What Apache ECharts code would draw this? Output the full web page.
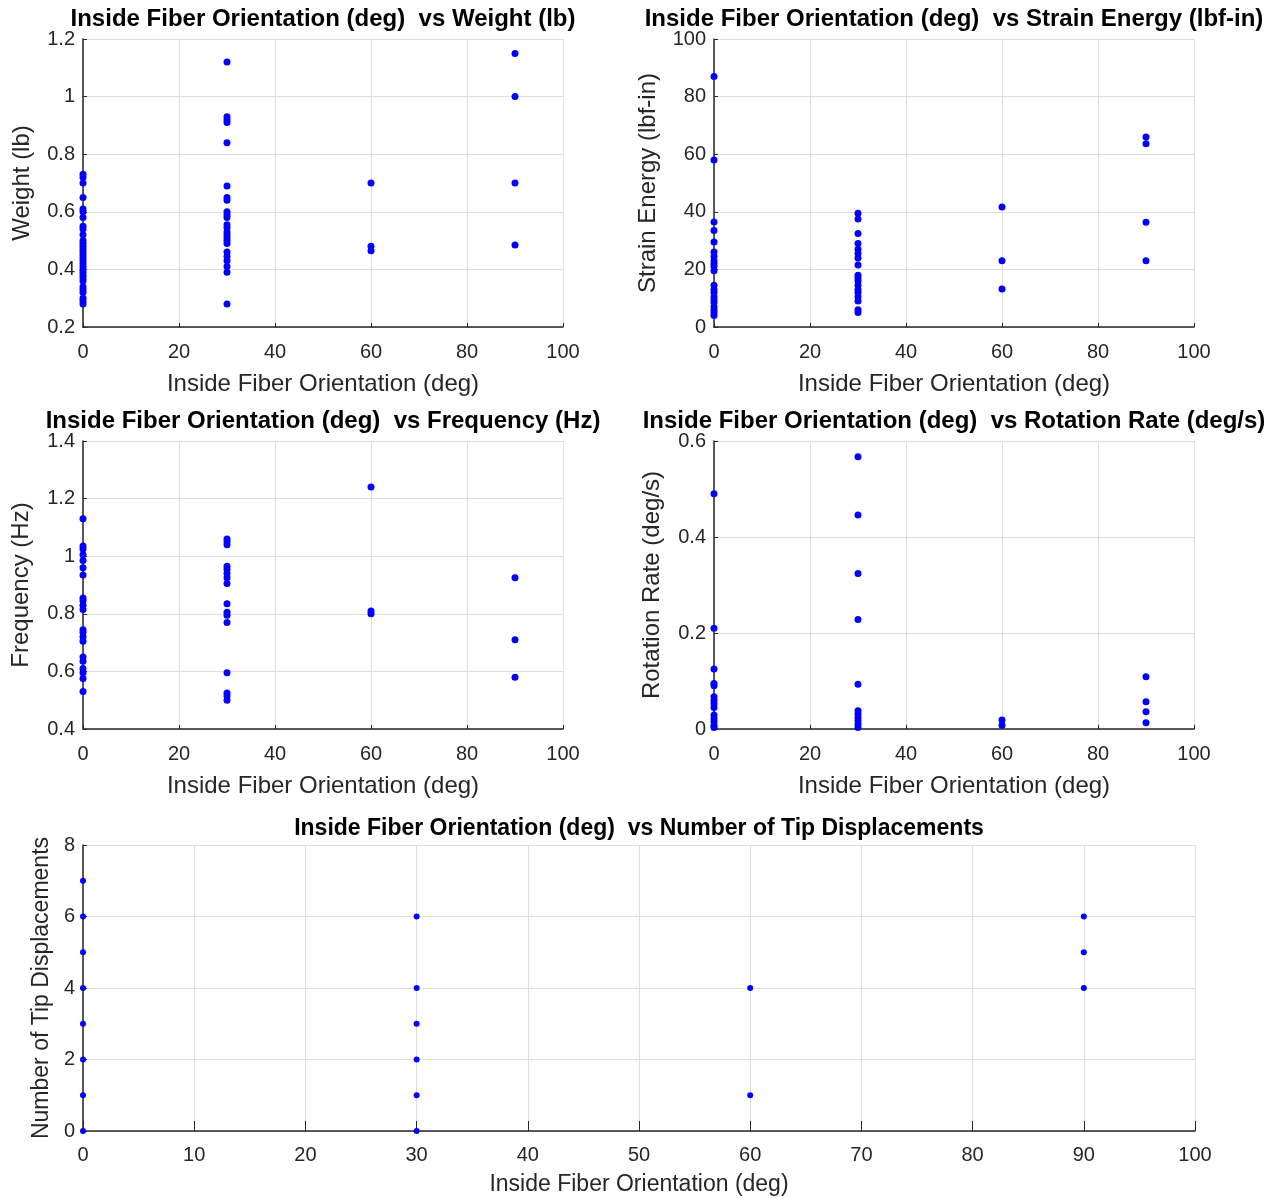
<!DOCTYPE html>
<html>
<head>
<meta charset="utf-8">
<script src="https://cdn.jsdelivr.net/npm/echarts@6/dist/echarts.min.js"></script>
<style>
  html, body { margin: 0; padding: 0; background: #fff; }
  #chart { width: 1286px; height: 1198px; }
</style>
</head>
<body>
<div id="chart"></div>
<script>
// ---- data ----
var orientations = [0, 30, 60, 90];

var weight0  = [0.73, 0.72, 0.70, 0.65, 0.61, 0.60, 0.58, 0.55, 0.54, 0.52, 0.50, 0.49, 0.48, 0.47, 0.46, 0.45,
                0.44, 0.43, 0.42, 0.41, 0.40, 0.39, 0.38, 0.37, 0.36, 0.34, 0.33, 0.32, 0.30, 0.29, 0.28];
var weight30 = [1.12, 0.93, 0.92, 0.91, 0.84, 0.69, 0.65, 0.64, 0.60, 0.59, 0.58, 0.555, 0.545, 0.53, 0.52, 0.51,
                0.50, 0.49, 0.46, 0.445, 0.43, 0.41, 0.39, 0.28];
var weight60 = [0.70, 0.48, 0.465];
var weight90 = [1.15, 1.00, 0.70, 0.485];

var strain0  = [87, 58, 36.5, 33.5, 29.5, 26, 24.5, 23, 22, 21, 19.5, 14.5, 13, 12, 10.5, 9.5, 8.5, 7, 6, 5, 4];
var strain30 = [39.5, 37.5, 32.5, 29, 27, 25.5, 24, 21.5, 18, 17, 16, 14.5, 13, 12, 10.5, 9, 6, 5];
var strain60 = [41.7, 23, 13.2];
var strain90 = [66, 63.6, 36.4, 23];

var freq0  = [1.13, 1.035, 1.025, 1.005, 0.985, 0.96, 0.935, 0.855, 0.845, 0.83, 0.815, 0.745, 0.735, 0.72,
              0.705, 0.65, 0.635, 0.61, 0.595, 0.575, 0.53];
var freq30 = [1.06, 1.05, 1.04, 0.965, 0.955, 0.94, 0.925, 0.905, 0.835, 0.805, 0.795, 0.77, 0.595, 0.525, 0.515, 0.50];
var freq60 = [1.24, 0.81, 0.80];
var freq90 = [0.925, 0.71, 0.58];

var rot0  = [0.49, 0.21, 0.125, 0.095, 0.09, 0.067, 0.06, 0.053, 0.045, 0.029, 0.022, 0.015, 0.008, 0.003];
var rot30 = [0.567, 0.446, 0.324, 0.228, 0.093, 0.038, 0.031, 0.024, 0.017, 0.010, 0.003];
var rot60 = [0.019, 0.008];
var rot90 = [0.109, 0.057, 0.036, 0.013];

var tips0  = [0, 1, 2, 3, 4, 5, 6, 7];
var tips30 = [0, 1, 2, 3, 4, 6];
var tips60 = [1, 4];
var tips90 = [4, 5, 6];

var xName = 'Inside Fiber Orientation (deg)';
var titles = [
  'Inside Fiber Orientation (deg)  vs Weight (lb)',
  'Inside Fiber Orientation (deg)  vs Strain Energy (lbf-in)',
  'Inside Fiber Orientation (deg)  vs Frequency (Hz)',
  'Inside Fiber Orientation (deg)  vs Rotation Rate (deg/s)',
  'Inside Fiber Orientation (deg)  vs Number of Tip Displacements'
];
var yNames = ['Weight (lb)', 'Strain Energy (lbf-in)', 'Frequency (Hz)', 'Rotation Rate (deg/s)', 'Number of Tip Displacements'];
// y ranges [min, max, interval]
var yRanges = [[0.2, 1.2, 0.2], [0, 100, 20], [0.4, 1.4, 0.2], [0, 0.6, 0.2], [0, 8, 2]];
var xIntervals = [20, 20, 20, 20, 10];

var groups = [
  [weight0, weight30, weight60, weight90],
  [strain0, strain30, strain60, strain90],
  [freq0, freq30, freq60, freq90],
  [rot0, rot30, rot60, rot90],
  [tips0, tips30, tips60, tips90]
];

// panel boxes (left, top, width, height)
var boxes = [
  [83, 39, 480, 288],
  [714, 39, 480, 288],
  [83, 441, 480, 288],
  [714, 441, 480, 288],
  [83, 845, 1112, 286]
];
var yGaps = [49, 54, 50, 50, 25];
var titleTops = [7, 7, 409, 409, 817];

var FONT = "'Liberation Sans', Arial, Helvetica, sans-serif";
var AX = '#262626';

function buildPoints(g) {
  var pts = [];
  for (var i = 0; i < orientations.length; i++) {
    for (var j = 0; j < g[i].length; j++) {
      pts.push([orientations[i], g[i][j]]);
    }
  }
  return pts;
}

var chart = echarts.init(document.getElementById('chart'));

var option = { animation: false, backgroundColor: '#fff', title: [], grid: [], xAxis: [], yAxis: [], series: [] };

for (var k = 0; k < 5; k++) {
  var b = boxes[k];
  var big = (k == 4);
  option.title.push({
    text: titles[k],
    left: b[0] + b[2] / 2,
    top: titleTops[k],
    textAlign: 'center',
    padding: 0,
    textStyle: { fontFamily: FONT, fontWeight: 'bold', fontSize: big ? 23 : 24, color: '#000' }
  });
  option.grid.push({ left: b[0], top: b[1], width: b[2], height: b[3], containLabel: false });
  option.xAxis.push({
    gridIndex: k,
    type: 'value',
    min: 0, max: 100, interval: xIntervals[k],
    name: xName,
    nameLocation: 'middle',
    nameGap: big ? 42 : 45,
    nameTextStyle: { fontFamily: FONT, fontSize: big ? 23 : 24, color: AX },
    axisLine: { show: true, onZero: false, lineStyle: { color: AX, width: 1.5 } },
    axisTick: { show: true, inside: true, length: big ? 10 : 4, lineStyle: { color: AX } },
    axisLabel: { fontFamily: FONT, fontSize: 20, color: AX, margin: big ? 14 : 15 },
    splitLine: { show: true, lineStyle: { color: '#dedede', width: 1 } }
  });
  option.yAxis.push({
    gridIndex: k,
    type: 'value',
    min: yRanges[k][0], max: yRanges[k][1], interval: yRanges[k][2],
    name: yNames[k],
    nameLocation: 'middle',
    nameGap: yGaps[k],
    nameTextStyle: { fontFamily: FONT, fontSize: big ? 23 : 24, color: AX },
    axisLine: { show: true, onZero: false, lineStyle: { color: AX, width: 1.5 } },
    axisTick: { show: true, inside: true, length: 4, lineStyle: { color: AX } },
    axisLabel: { fontFamily: FONT, fontSize: 20, color: AX, margin: 8 },
    splitLine: { show: true, lineStyle: { color: '#dedede', width: 1 } }
  });
  option.series.push({
    type: 'scatter',
    xAxisIndex: k,
    yAxisIndex: k,
    symbol: 'circle',
    symbolSize: big ? 6 : 7,
    itemStyle: { color: '#0000ff', opacity: 1 },
    clip: false,
    data: buildPoints(groups[k])
  });
}

chart.setOption(option);
</script>
</body>
</html>
